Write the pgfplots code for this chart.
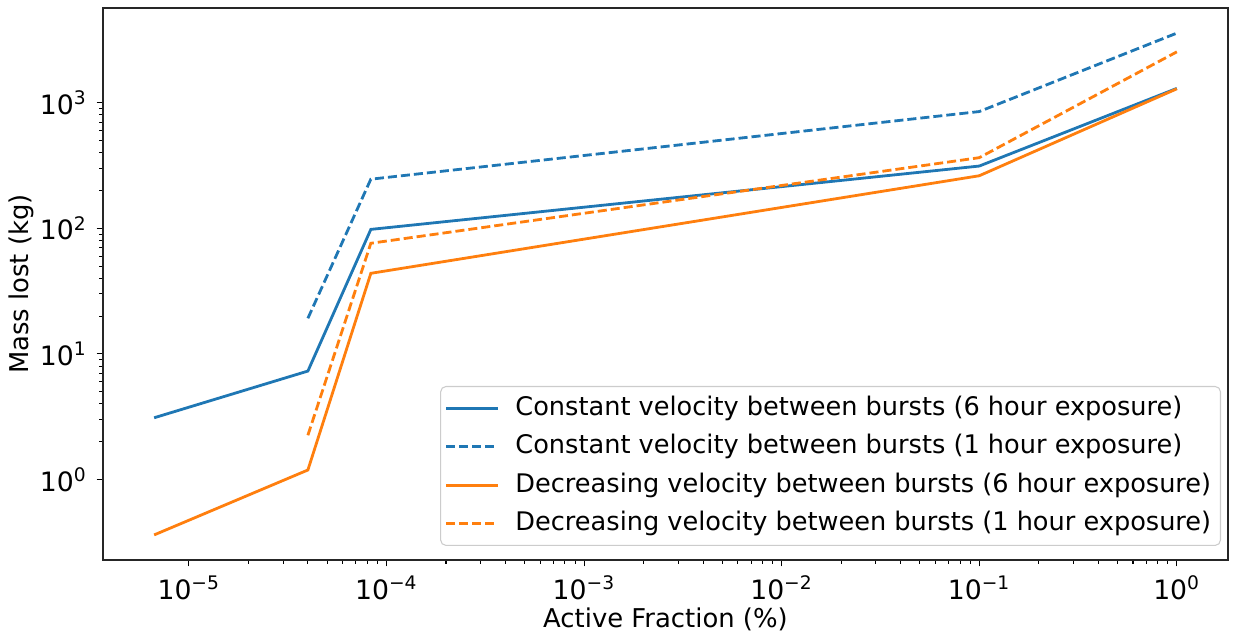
\documentclass[border=0pt]{standalone}
\usepackage{fontspec}
\setmainfont{DejaVu Sans}
\usepackage{pgfplots}
\pgfplotsset{compat=1.18}
\definecolor{mplblue}{HTML}{1F77B4}
\definecolor{mplorange}{HTML}{FF7F0E}
\begin{document}
\begin{tikzpicture}
\path[use as bounding box] (-38.6pt,-27.75pt) rectangle (425.65pt,210pt);
\begin{axis}[
  at={(0,0)}, anchor=south west,
  scale only axis, width=421.9pt, height=207pt,
  xmode=log, ymode=log,
  xmin=3.67e-6, xmax=1.815,
  ymin=0.2286, ymax=5675,
  xtick={1e-5,1e-4,1e-3,1e-2,1e-1,1},
  xticklabels={10\textsuperscript{−5},10\textsuperscript{−4},10\textsuperscript{−3},10\textsuperscript{−2},10\textsuperscript{−1},10\textsuperscript{0}},
  ytick={1,10,100,1000},
  yticklabels={10\textsuperscript{0},10\textsuperscript{1},10\textsuperscript{2},10\textsuperscript{3}},
  tick align=outside,
  major tick length=2.4pt, minor tick length=1.4pt,
  every tick/.style={black, line width=0.4pt},
  tick label style={font=\fontsize{10}{12}\selectfont},
  axis line style={line width=0.5pt, black!85},
  xtick pos=bottom, ytick pos=left,
  xlabel={Active Fraction (\%)},
  ylabel={Mass lost (kg)},
  label style={font=\fontsize{9.7}{12}\selectfont},
  xlabel style={at={(axis description cs:0.5,-0.1232)}, anchor=base},
  ylabel style={at={(axis description cs:-0.0722,0.5)}, anchor=center},
  legend cell align=left,
  legend image code/.code={\draw[#1] (0pt,0pt) -- (19.5pt,0pt);},
  legend style={at={(rel axis cs:0.9938,0.0254)}, anchor=south east,
    draw=black!20, rounded corners=2pt, fill=white,
    font=\fontsize{9.6}{12}\selectfont,
    inner xsep=1.5pt, inner ysep=1pt, row sep=0pt, column sep=4pt,
    nodes={text height=0.78em, text depth=0.26em, inner sep=2pt}},
]
\addplot[mplblue, line width=1.05pt] coordinates {
  (6.667e-6,3.1) (4.0e-5,7.3) (8.33e-5,98) (0.1,313) (1,1300)};
\addlegendentry{Constant velocity between bursts (6 hour exposure)}
\addplot[mplblue, line width=1.05pt, dash pattern=on 3.4pt off 1.5pt] coordinates {
  (4.0e-5,19.2) (8.33e-5,246) (0.1,850) (1,3580)};
\addlegendentry{Constant velocity between bursts (1 hour exposure)}
\addplot[mplorange, line width=1.05pt] coordinates {
  (6.667e-6,0.362) (4.0e-5,1.19) (8.33e-5,43.8) (0.1,262) (1,1290)};
\addlegendentry{Decreasing velocity between bursts (6 hour exposure)}
\addplot[mplorange, line width=1.05pt, dash pattern=on 3.4pt off 1.5pt] coordinates {
  (4.0e-5,2.25) (8.33e-5,76) (0.1,365) (1,2540)};
\addlegendentry{Decreasing velocity between bursts (1 hour exposure)}
\end{axis}
\end{tikzpicture}
\end{document}
